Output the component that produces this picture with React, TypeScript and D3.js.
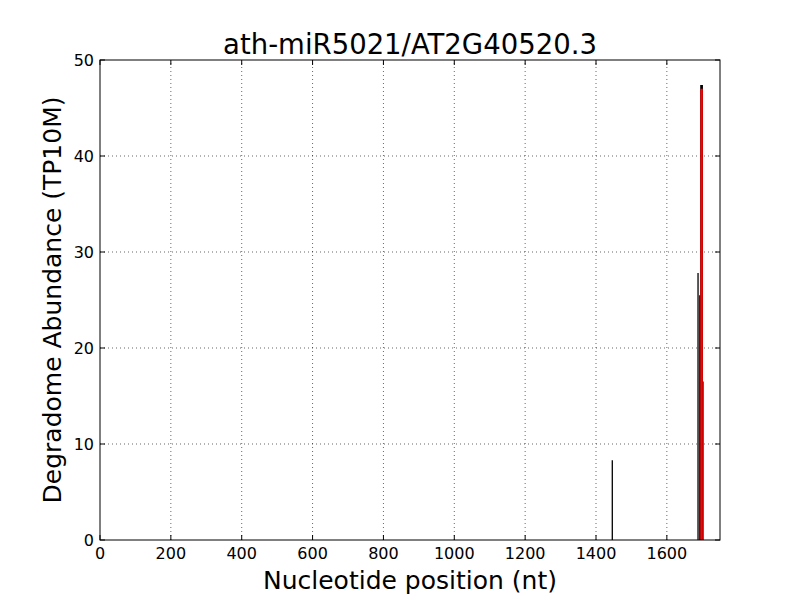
import React, { useEffect, useRef } from 'react';
import * as d3 from 'd3';

const title = 'ath-miR5021/AT2G40520.3';
const positions = [1446, 1688, 1693, 1696, 1698, 1700, 1702];
const abundances = [8.3, 27.8, 25.5, 47.4, 47.4, 47.4, 16.5];
const sitePosition = 1698;
const siteAbundance = 47.0;
const xTicks = [0, 200, 400, 600, 800, 1000, 1200, 1400, 1600];
const yTicks = [0, 10, 20, 30, 40, 50];

const width = 800;
const height = 600;
const margin = { top: 60, right: 80, bottom: 60, left: 100 };

const App: React.FC = () => {
  const svgRef = useRef<SVGSVGElement | null>(null);

  useEffect(() => {
    const svg = d3.select(svgRef.current);
    svg.selectAll('*').remove();
    const font = 'DejaVu Sans';

    const x = d3.scaleLinear().domain([0, 1750]).range([margin.left, width - margin.right]);
    const y = d3.scaleLinear().domain([0, 50]).range([height - margin.bottom, margin.top]);

    svg.append('rect').attr('width', width).attr('height', height).attr('fill', 'white');

    // grid
    const grid = svg.append('g').attr('stroke', 'black').attr('stroke-width', 0.6).attr('stroke-dasharray', '1,3');
    xTicks.slice(1).forEach((t) => {
      grid.append('line').attr('x1', x(t)).attr('x2', x(t)).attr('y1', y(0)).attr('y2', y(50));
    });
    yTicks.slice(1, -1).forEach((t) => {
      grid.append('line').attr('x1', x(0)).attr('x2', x(1750)).attr('y1', y(t)).attr('y2', y(t));
    });

    // bars
    svg.append('g')
      .selectAll('line')
      .data(positions)
      .enter()
      .append('line')
      .attr('x1', (d) => x(d))
      .attr('x2', (d) => x(d))
      .attr('y1', y(0))
      .attr('y2', (_, i) => y(abundances[i]))
      .attr('stroke', 'black')
      .attr('stroke-width', 1.3);

    svg.append('line')
      .attr('x1', x(sitePosition)).attr('x2', x(sitePosition))
      .attr('y1', y(0)).attr('y2', y(siteAbundance))
      .attr('stroke', 'red')
      .attr('stroke-width', 2.5);

    // frame
    svg.append('rect')
      .attr('x', x(0)).attr('y', y(50))
      .attr('width', x(1750) - x(0)).attr('height', y(0) - y(50))
      .attr('fill', 'none').attr('stroke', 'black').attr('stroke-width', 1);

    // ticks (inward, both sides)
    const ticks = svg.append('g').attr('stroke', 'black').attr('stroke-width', 1);
    xTicks.forEach((t) => {
      ticks.append('line').attr('x1', x(t)).attr('x2', x(t)).attr('y1', y(0)).attr('y2', y(0) - 5);
      ticks.append('line').attr('x1', x(t)).attr('x2', x(t)).attr('y1', y(50)).attr('y2', y(50) + 5);
    });
    yTicks.forEach((t) => {
      ticks.append('line').attr('x1', x(0)).attr('x2', x(0) + 5).attr('y1', y(t)).attr('y2', y(t));
      ticks.append('line').attr('x1', x(1750)).attr('x2', x(1750) - 5).attr('y1', y(t)).attr('y2', y(t));
    });

    svg.append('g')
      .selectAll('text')
      .data(xTicks)
      .enter()
      .append('text')
      .attr('x', (d) => x(d))
      .attr('y', y(0) + 19)
      .attr('text-anchor', 'middle')
      .attr('font-family', font)
      .attr('font-size', 16)
      .text((d) => d);

    svg.append('g')
      .selectAll('text')
      .data(yTicks)
      .enter()
      .append('text')
      .attr('x', x(0) - 6)
      .attr('y', (d) => y(d) + 6)
      .attr('text-anchor', 'end')
      .attr('font-family', font)
      .attr('font-size', 16)
      .text((d) => d);

    svg.append('text')
      .attr('x', (x(0) + x(1750)) / 2)
      .attr('y', 54)
      .attr('text-anchor', 'middle')
      .attr('font-family', font)
      .attr('font-size', 27.5)
      .text(title);

    svg.append('text')
      .attr('x', (x(0) + x(1750)) / 2)
      .attr('y', 589)
      .attr('text-anchor', 'middle')
      .attr('font-family', font)
      .attr('font-size', 25)
      .text('Nucleotide position (nt)');

    svg.append('text')
      .attr('transform', `translate(61, ${(y(0) + y(50)) / 2}) rotate(-90)`)
      .attr('text-anchor', 'middle')
      .attr('font-family', font)
      .attr('font-size', 25)
      .text('Degradome Abundance (TP10M)');
  }, []);

  return <svg ref={svgRef} width={width} height={height} style={{ position: 'absolute', left: 0, top: 0 }} />;
};

export default App;
